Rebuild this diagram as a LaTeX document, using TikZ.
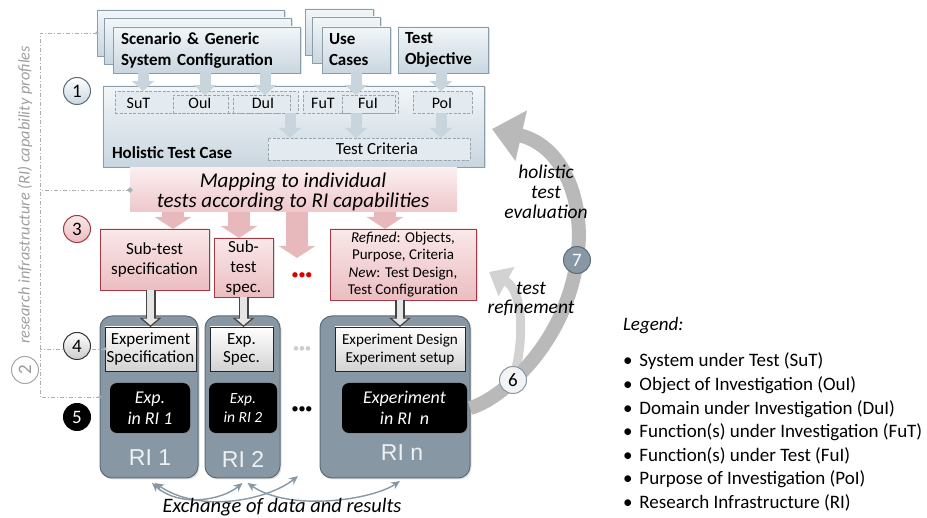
\documentclass[tikz,border=0pt]{standalone}
\usepackage{fontspec}
\setmainfont{Carlito}
\newfontfamily\arialf{Liberation Sans}
\usetikzlibrary{arrows.meta,shadows,calc}
\definecolor{bbord}{HTML}{8C9DAA}
\definecolor{btop}{HTML}{F2F6F9}
\definecolor{bbot}{HTML}{C9D6DF}
\definecolor{bdash}{HTML}{9AA6AE}
\definecolor{binner}{HTML}{E4EBF0}
\definecolor{barrc}{HTML}{C9D5DD}
\definecolor{pbord}{HTML}{A63843}
\definecolor{ptop}{HTML}{FAE8E9}
\definecolor{pbot}{HTML}{EBBDC1}
\definecolor{parrc}{HTML}{E7B8BC}
\definecolor{slate}{HTML}{8797A4}
\definecolor{slated}{HTML}{5D6C78}
\definecolor{bracket}{HTML}{A9B1B7}
\definecolor{ritxt}{HTML}{EEF1F3}
\newcommand{\myfs}[2]{\fontsize{#1}{#2}\selectfont}
\begin{document}
\begin{tikzpicture}[x=1pt,y=-1pt,
 every node/.style={inner sep=0pt,outer sep=0pt},
 shade/.style={drop shadow={opacity=0.25,shadow xshift=1.5pt,shadow yshift=-1.5pt}},
 bluebox/.style={draw=bbord, line width=0.8pt, top color=btop, bottom color=bbot, shade},
 toptxt/.style={bluebox, align=left, font=\bfseries\myfs{17}{21}, minimum height=46pt},
 dbox/.style={draw=bdash, dashed, dash pattern=on 3pt off 1.5pt, line width=0.7pt, fill=binner},
 itxt/.style={font=\myfs{16}{17}},
 barr/.style={draw=barrc, line width=11pt, -{Triangle[length=10pt,width=22pt]}},
 pinkbox/.style={draw=pbord, line width=0.8pt, top color=ptop, bottom color=pbot, align=center, shade},
 parr/.style={draw=parrc, line width=22pt, -{Triangle[length=12pt,width=36pt]}},
 ribox/.style={draw=slated, line width=1pt, fill=slate, rounded corners=12pt, shade},
 esbox/.style={draw=gray!30!black, line width=0.8pt, top color=white, bottom color=gray!35, align=center},
 exbox/.style={fill=black, rounded corners=7pt, text=white, align=center, font=\itshape\myfs{18}{21}, drop shadow={opacity=0.4, shadow xshift=1pt, shadow yshift=-1pt}},
 garr/.style={draw=gray!55!black, line width=10pt, -{Triangle[length=9pt,width=21pt]}, postaction={draw=gray!20, line width=6.5pt, shorten >=1.8pt, -{Triangle[length=6.5pt,width=15pt]}}},
 numc/.style={circle, minimum size=27pt, line width=1pt, font=\myfs{19}{19}},
 ritext/.style={text=ritxt, font=\arialf\myfs{23}{23}},
 brk/.style={draw=bracket, line width=0.8pt, dash pattern=on 4pt off 2pt on 1pt off 2pt},
 exarr/.style={draw=slate, line width=1.4pt, {Stealth[length=9pt,width=8pt]}-{Stealth[length=9pt,width=8pt]}},
 dotend/.style={circle, fill=bracket, minimum size=3.5pt},
]
\useasboundingbox (0,0) rectangle (927,518);

% ---------- top source boxes
\node[bluebox, minimum width=187pt, minimum height=46pt] (scen3) at (190.5,33) {};
\node[bluebox, minimum width=187pt, minimum height=46pt] (scen2) at (198,41) {};
\node[toptxt, text width=171pt, inner xsep=8pt] (scen) at (206.5,50) {Scenario \& Generic\\System Configuration};
\node[bluebox, minimum width=68pt, minimum height=46pt] (uc3) at (339,32) {};
\node[bluebox, minimum width=68pt, minimum height=46pt] (uc2) at (346,40) {};
\node[toptxt, text width=54pt, inner xsep=7pt] (uc) at (356,50) {Use\\Cases};
\node[toptxt, text width=76pt, inner xsep=7pt] (tobj) at (443,50) {Test\\Objective};

% ---------- holistic test case
\node[bluebox, minimum width=381pt, minimum height=81pt] (htc) at (293.5,126.5) {};
\node[anchor=base west, font=\bfseries\myfs{17}{18}] (htcl) at (112,159) {Holistic Test Case};
\node[dbox, minimum width=183pt, minimum height=22pt] (sutg) at (206.5,102) {};
\node[dbox, minimum width=55pt, minimum height=18pt] (oui) at (200.5,104) {};
\node[dbox, minimum width=57pt, minimum height=18pt] (dui) at (261.5,104) {};
\node[dbox, minimum width=95pt, minimum height=22pt] (futg) at (350.5,102) {};
\node[dbox, minimum width=53pt, minimum height=18pt] (fui) at (368.5,104) {};
\node[dbox, minimum width=59pt, minimum height=22pt] (poi) at (442.5,102) {};
\node[dbox, minimum width=202pt, minimum height=22pt] (crit) at (369,149) {};
\node[itxt] (sutl) at (138.5,103) {SuT};
\node[itxt] (ouil) at (200,103) {OuI};
\node[itxt] (duil) at (263,103) {DuI};
\node[itxt] (futl) at (323,103) {FuT};
\node[itxt] (fuil) at (368,103) {FuI};
\node[itxt] (poil) at (442,103) {PoI};
\node[font=\myfs{17}{18}] (critl) at (377,149) {Test Criteria};

% arrow columns
\coordinate (c1) at (143,0);
\coordinate (c2) at (205,0);
\coordinate (c3) at (265,0);
\coordinate (c4) at (356,0);
\coordinate (c5) at (441,0);
\coordinate (c6) at (290,0);
\draw[barr] (scen.south -| c1) -- (sutg.north -| c1);
\draw[barr] (scen.south -| c2) -- (oui.north -| c2);
\draw[barr] (scen.south -| c3) -- (dui.north -| c3);
\draw[barr] (uc.south -| c4) -- (fui.north -| c4);
\draw[barr] (tobj.south -| c5) -- (poi.north -| c5);
\draw[barr] (sutg.south -| c6) -- (crit.north -| c6);
\draw[barr] (fui.south -| c4) -- (crit.north -| c4);
\draw[barr] (poi.south -| c5) -- (crit.north -| c5);

% ---------- mapping band
\node[minimum width=327pt, minimum height=44pt, top color=ptop!70!white, bottom color=pbot!85] (band) at (293.5,190) {};
\coordinate (p1) at (173,0);
\coordinate (p2) at (239,0);
\coordinate (p3) at (297,0);
\coordinate (p4) at (385,0);
\coordinate (p3end) at (297,258);

% ---------- sub-test specs
\node[pinkbox, minimum width=109pt, minimum height=61pt, font=\myfs{17}{20}] (st1) at (154.5,259.5) {Sub-test\\specification};
\node[pinkbox, minimum width=59pt, minimum height=59pt, font=\myfs{17}{20}] (st2) at (243.5,267.5) {Sub-\\test\\spec.};
\node[pinkbox, minimum width=146pt, minimum height=71pt, font=\myfs{15}{17.5}] (refb) at (403,264.5) {\textit{Refined}: Objects,\\Purpose, Criteria\\\textit{New}: Test Design,\\Test Configuration};
\draw[parr] (band.south -| p1) -- (st1.north -| p1);
\draw[parr] (band.south -| p2) -- (st2.north -| p2);
\draw[parr] (band.south -| p3) -- (p3end);
\draw[parr] (band.south -| p4) -- (refb.north -| p4);
\node[font=\itshape\myfs{21}{20}, align=center] (mapt) at (293,192) {Mapping to individual\\tests according to RI capabilities};
\node[text=red!85!black, font=\myfs{15}{15}] (reddots) at (302,276) {\textbullet\kern-0.5pt\textbullet\kern-0.5pt\textbullet};

% ---------- big feedback arrows
\node[ribox, minimum width=150pt, minimum height=162pt] (rin) at (395,397) {};
\coordinate (c7pos) at (577,260);
\coordinate (c6pos) at (513,380);
\coordinate (hend) at (492,129);
\coordinate (rend) at (489,272);
\draw[draw=gray!35, line width=9pt, -{Triangle[length=20pt,width=32pt]}] (c6pos) .. controls (526,335) and (522,290) .. (rend);
\draw[draw=gray!55, line width=14pt, -{Triangle[length=30pt,width=50pt]}] ([yshift=-11pt]rin.east) .. controls (500,400) and (565,345) .. (c7pos) .. controls (586,200) and (562,145) .. (hend);
\node[font=\itshape\myfs{19.5}{20}, align=center] (holl) at (546,192) {holistic\\test\\evaluation};
\node[font=\itshape\myfs{19.5}{19}, align=center] (refl) at (531,299) {test\\refinement};

% ---------- RI boxes
\node[ribox, minimum width=98pt, minimum height=162pt] (ri1) at (149,397) {};
\node[ribox, minimum width=75pt, minimum height=162pt] (ri2) at (242.5,397) {};
\node[esbox, minimum width=91pt, minimum height=44pt, font=\myfs{17}{18}] (es1) at (150.5,349) {Experiment\\Specification};
\node[esbox, minimum width=63pt, minimum height=44pt, font=\myfs{17}{18}] (es2) at (241.5,349) {Exp.\\Spec.};
\node[esbox, minimum width=130pt, minimum height=44pt, font=\myfs{15.2}{18}] (esn) at (400,349) {Experiment Design\\Experiment setup};
\node[exbox, minimum width=80pt, minimum height=50pt] (ex1) at (150,408) {Exp.\\in RI 1};
\node[exbox, minimum width=68pt, minimum height=50pt, font=\itshape\myfs{15.5}{19}] (ex2) at (243,408) {Exp.\\in RI 2};
\node[exbox, minimum width=125pt, minimum height=50pt] (exn) at (404.5,408) {Experiment\\in RI\ \ n};
\node[ritext] (ri1l) at (150,458) {RI 1};
\node[ritext] (ri2l) at (243,459) {RI 2};
\node[ritext] (rinl) at (402,453) {RI n};
\node[text=gray!40, font=\myfs{13}{13}] (gdots) at (302,350) {\textbullet\kern-0.5pt\textbullet\kern-0.5pt\textbullet};
\node[text=black, font=\myfs{15}{15}] (bdots) at (302,410) {\textbullet\kern-0.5pt\textbullet\kern-0.5pt\textbullet};

\draw[garr] (st1.south -| es1.north) -- (es1.north);
\draw[garr] (st2.south) -- (st2.south |- es2.north);
\draw[garr] (refb.south -| esn.north) -- (esn.north);

% ---------- exchange arrows
\coordinate (exdots) at (298,476);
\draw[exarr] ([shift={(3,5)}]ri1.south) .. controls (180,508) and (222,500) .. ([shift={(0,5)}]ri2.south);
\draw[exarr] ([shift={(6,5)}]ri1.south) .. controls (200,514) and (268,500) .. (exdots);
\draw[exarr] ([shift={(5,5)}]ri2.south) .. controls (290,512) and (372,500) .. ([shift={(5,3)}]rin.south);
\node[font=\itshape\myfs{20.5}{20}] (exch) at (282,507) {Exchange of data and results};

% ---------- left bracket
\coordinate (brT) at (40,33);
\coordinate (brB) at (40,397);
\draw[brk] (scen3.west) -- (brT) -- (brB) -- (ri1.west);
\draw[brk] (band.west) -- (band.west -| brT);
\draw[brk] (es1.west) -- (es1.west -| brT);
\node[dotend] (d1) at (scen3.west) {};
\node[dotend, rotate=45, rectangle, minimum size=4pt] (d2) at (band.west) {};
\node[dotend] (d3) at (es1.west) {};
\node[dotend] (d4) at (ri1.west) {};
\node[rotate=90, text=gray!75, font=\itshape\myfs{16.3}{18}] (vtext) at (25,195) {research infrastructure (RI) capability profiles};

% ---------- numbered circles
\node[numc, draw=gray!70, fill=white, text=gray!80, rotate=90] (n2) at (25,370) {2};
\node[numc, draw=slated, top color=white, bottom color=bbot] (n1) at (77,91) {1};
\node[numc, draw=pbord, top color=ptop, bottom color=pbot] (n3) at (77,229) {3};
\node[numc, draw=gray!40!black, top color=white, bottom color=gray!40] (n4) at (77,346) {4};
\node[numc, draw=black, fill=black, text=white] (n5) at (77,417) {5};
\node[numc, draw=slate, fill=white!88!slate] (n6) at (c6pos) {6};
\node[numc, draw=slated, fill=slate, text=white] (n7) at (c7pos) {7};

% ---------- legend
\node[anchor=base west, font=\itshape\myfs{19}{20}] (legt) at (623,331) {Legend:};
\foreach \t [count=\i] in {System under Test (SuT),Object of Investigation (OuI),Domain under Investigation (DuI),Function(s) under Investigation (FuT),Function(s) under Test (FuI),Purpose of Investigation (PoI),Research Infrastructure (RI)}
  \node[anchor=base west, font=\myfs{19}{20}] (leg\i) at (623,{367+23.6*(\i-1)}) {\textbullet\hspace{7pt}\t};
\end{tikzpicture}
\end{document}
